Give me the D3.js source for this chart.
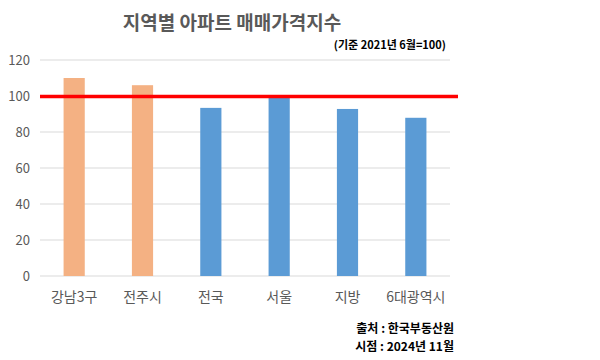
<!DOCTYPE html>
<html><head><meta charset="utf-8">
<script src="https://cdn.jsdelivr.net/npm/d3@7"></script>
<style>body{margin:0;background:#fff}svg{display:block}text{font-family:"Noto Sans CJK KR","Noto Sans",sans-serif}</style>
</head><body>
<script>
const categories = ["강남3구","전주시","전국","서울","지방","6대광역시"];
const values = [110, 106, 93.4, 99, 92.8, 87.9];
const barColors = ["#F4B183","#F4B183","#5B9BD5","#5B9BD5","#5B9BD5","#5B9BD5"];
const yTicks = [0,20,40,60,80,100,120];
const refValue = 100;

const W=600,H=360;
const svg=d3.select("body").append("svg").attr("width",W).attr("height",H);
const x=d3.scaleBand().domain(categories).range([40,450]).paddingInner(0.69).paddingOuter(0.345);
const y=d3.scaleLinear().domain([0,120]).range([276,60]);

svg.append("g").selectAll("line").data(yTicks).join("line")
 .attr("x1",40).attr("x2",450).attr("y1",d=>y(d)).attr("y2",d=>y(d))
 .attr("stroke","#d9d9d9").attr("stroke-width",1);

const yAxis=svg.append("g").attr("transform","translate(40,0)")
 .call(d3.axisLeft(y).tickValues(yTicks).tickSize(0).tickPadding(10));
yAxis.select(".domain").remove();
yAxis.selectAll("text").attr("fill","#595959").style("font-size","13px").style("font-family","'Noto Sans CJK KR',sans-serif");

svg.append("g").selectAll("rect").data(categories).join("rect")
 .attr("x",d=>x(d)).attr("width",x.bandwidth())
 .attr("y",(d,i)=>y(values[i])).attr("height",(d,i)=>y(0)-y(values[i]))
 .attr("fill",(d,i)=>barColors[i]);

const xAxis=svg.append("g").attr("transform","translate(0,276)")
 .call(d3.axisBottom(x).tickSize(0).tickPadding(16));
xAxis.select(".domain").remove();
xAxis.selectAll("text").attr("fill","#595959").style("font-size","14px").style("font-family","'Noto Sans CJK KR',sans-serif");

svg.append("line").attr("x1",40).attr("x2",458).attr("y1",y(refValue)+0.5).attr("y2",y(refValue)+0.5)
 .attr("stroke","#FF0000").attr("stroke-width",3.5);

svg.append("text").attr("x",232).attr("y",30).attr("text-anchor","middle")
 .attr("fill","#595959").style("font-size","19px").style("font-weight","bold").text("지역별 아파트 매매가격지수");
svg.append("text").attr("x",446).attr("y",49).attr("text-anchor","end")
 .attr("fill","#000").style("font-size","11px").style("font-weight","bold").text("(기준 2021년 6월=100)");
svg.append("text").attr("x",454).attr("y",333).attr("text-anchor","end")
 .attr("fill","#000").style("font-size","12px").style("font-weight","bold").text("출처 : 한국부동산원");
svg.append("text").attr("x",454).attr("y",351).attr("text-anchor","end")
 .attr("fill","#000").style("font-size","12px").style("font-weight","bold").text("시점 : 2024년 11월");
</script>
</body></html>
